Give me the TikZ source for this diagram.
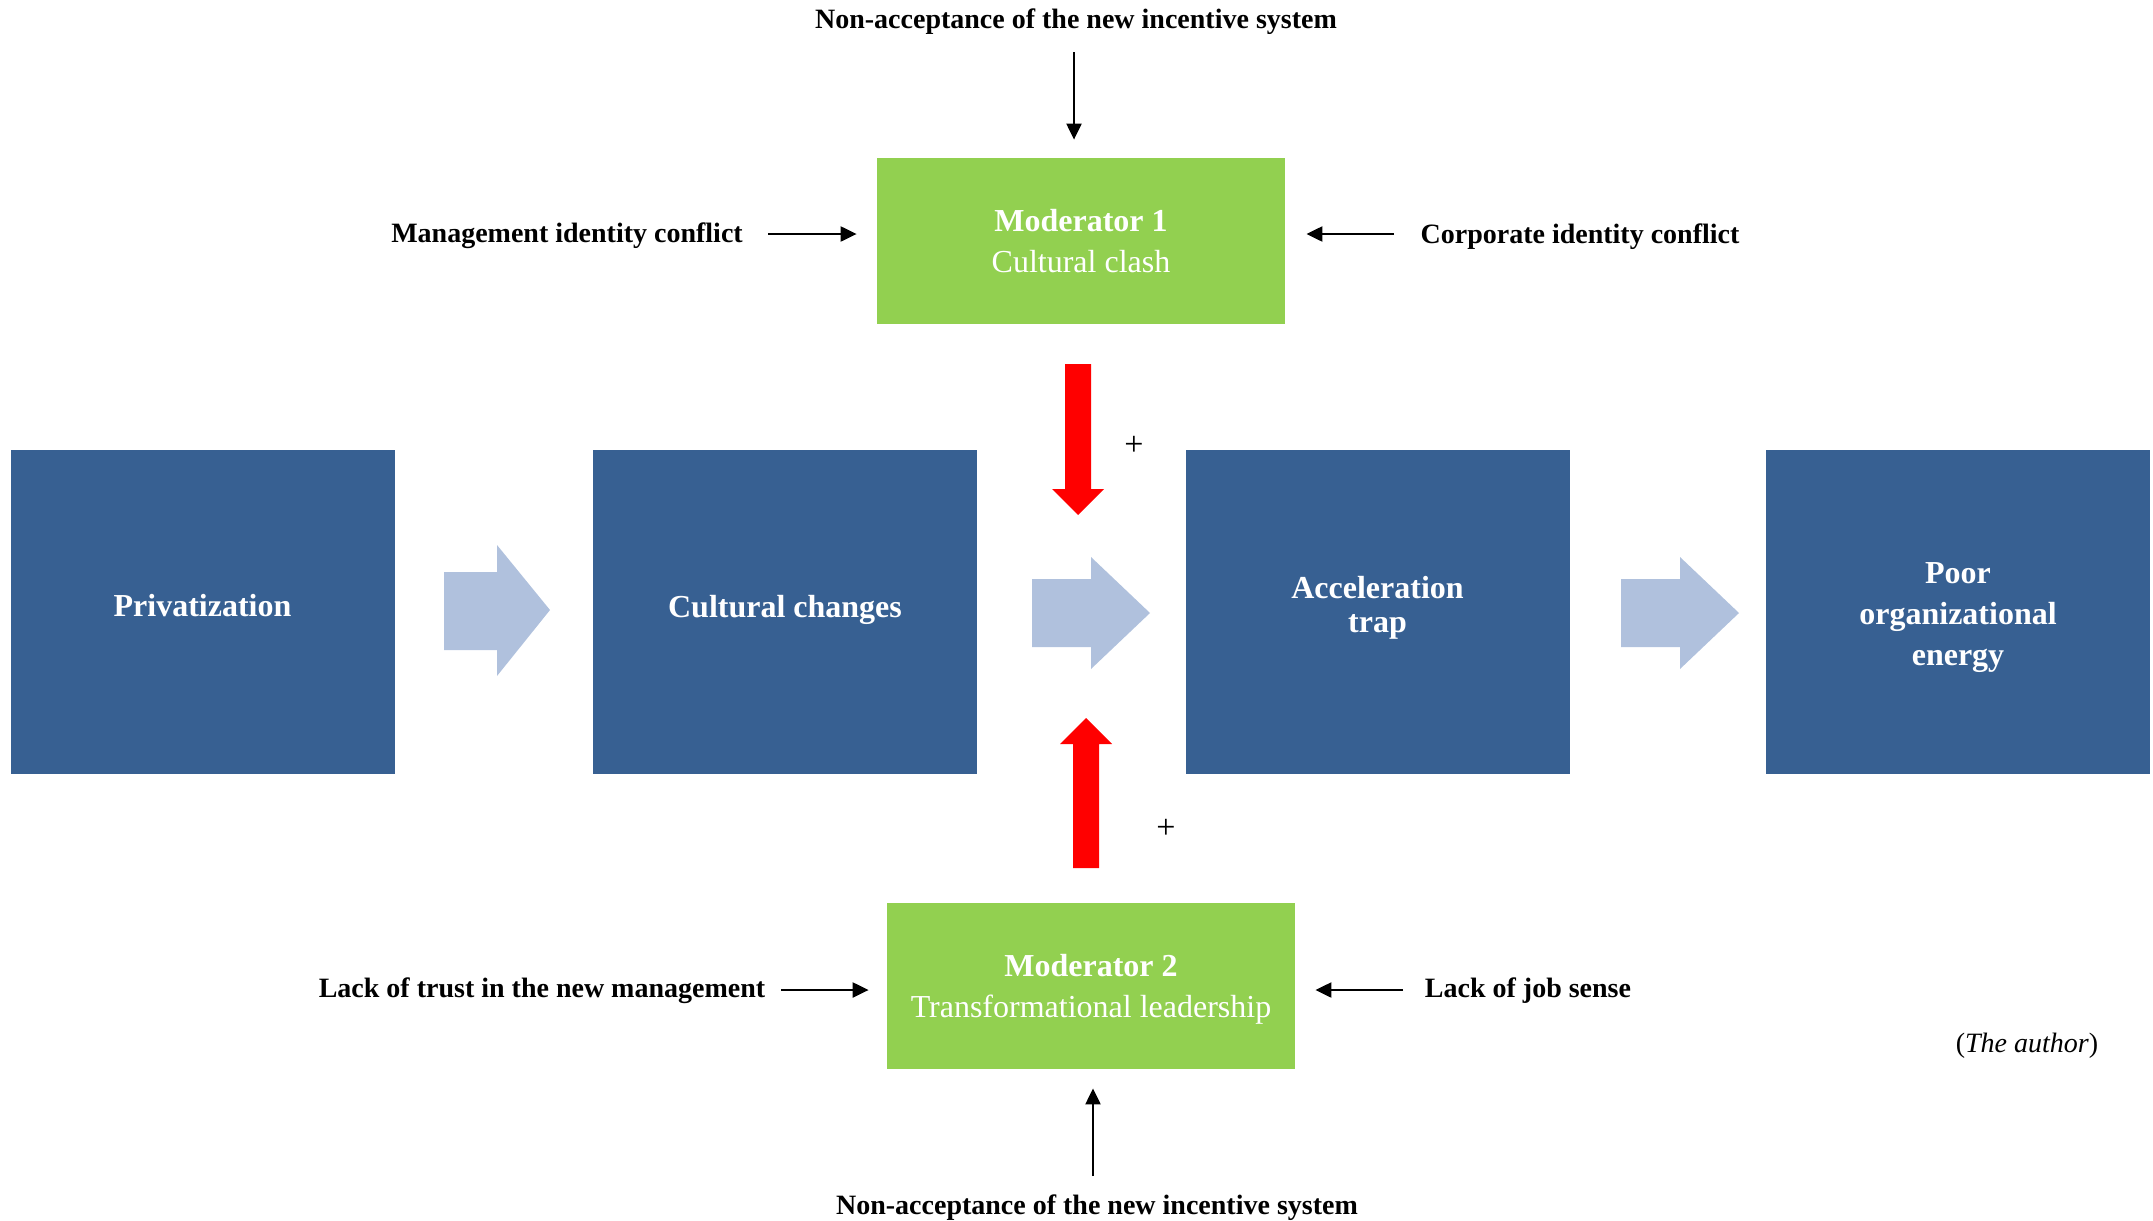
\documentclass[tikz,border=0pt]{standalone}
\usepackage{fontspec}
\setmainfont{Liberation Serif}
\usetikzlibrary{arrows.meta}
\definecolor{boxblue}{RGB}{55,96,146}
\definecolor{modgreen}{RGB}{146,208,80}
\definecolor{lightarrow}{RGB}{176,193,221}
\definecolor{redarrow}{RGB}{255,0,0}
\tikzset{
  bluebox/.style={fill=boxblue, draw=none, text=white, align=center,
    minimum width=192pt, minimum height=162pt, inner sep=0pt,
    font=\fontsize{16}{20.5}\selectfont\bfseries},
  boxtext/.style={text=white, align=center, inner sep=0pt,
    font=\fontsize{16}{20.5}\selectfont\bfseries},
  modbox/.style={fill=modgreen, draw=none, text=white, align=center,
    minimum width=204pt, minimum height=83pt, inner sep=0pt,
    font=\fontsize{16}{20.3}\selectfont},
  lbl/.style={inner sep=0pt, font=\fontsize{14}{16}\selectfont\bfseries},
  plus/.style={inner sep=0pt, font=\fontsize{17}{19}\selectfont},
  conn/.style={draw=black, line width=1.1pt, -{Triangle[length=8pt,width=7.5pt]}},
  blockarrow/.style={fill=lightarrow, draw=none},
  redblock/.style={fill=redarrow, draw=none}
}
\begin{document}
\begin{tikzpicture}[x=0.5pt, y=-0.5pt]
\useasboundingbox (0,0) rectangle (2153,1221);

% main process boxes
\node[bluebox] (b1) at (202.5,612) {};
\node[bluebox] (b2) at (785,612) {};
\node[bluebox] (b3) at (1377.5,612) {};
\node[bluebox] (b4) at (1958,612) {};
\node[boxtext] (t1) at (202.5,606) {Privatization};
\node[boxtext] (t2) at (785,610) {Cultural changes};
\node[boxtext, font=\fontsize{16}{17}\selectfont\bfseries] (t3) at (1377.5,608) {Acceleration\\trap};
\node[boxtext] (t4) at (1958,618) {Poor\\organizational\\energy};

% moderators
\node[modbox] (m1) at (1081,241) {\textbf{Moderator 1}\\Cultural clash};
\node[modbox] (m2) at (1091,986) {};
\node[modbox, fill=none, minimum width=0pt, minimum height=0pt] (m2t) at (1091,989) {\textbf{Moderator 2}\\Transformational leadership};

% block arrows between boxes
\fill[blockarrow] (444,572) -- (497,572) -- (497,545) -- (550,610) -- (497,676) -- (497,650) -- (444,650) -- cycle;
\fill[blockarrow] (1032,579) -- (1091,579) -- (1091,557) -- (1150,613) -- (1091,669) -- (1091,647) -- (1032,647) -- cycle;
\fill[blockarrow] (1621,579) -- (1680,579) -- (1680,557) -- (1739,613) -- (1680,669) -- (1680,647) -- (1621,647) -- cycle;

% red arrows
\fill[redblock] (1065,364) -- (1091,364) -- (1091,489) -- (1104,489) -- (1078,515) -- (1052,489) -- (1065,489) -- cycle;
\fill[redblock] (1073,868) -- (1099,868) -- (1099,744) -- (1112,744) -- (1086,718) -- (1060,744) -- (1073,744) -- cycle;
\node[plus] (p1) at (1134,446) {+};
\node[plus] (p2) at (1166,829) {+};

% labels
\node[lbl] (ltop) at (1076,22) {Non-acceptance of the new incentive system};
\node[lbl] (lmgmt) at (567,236) {Management identity conflict};
\node[lbl] (lcorp) at (1580,237) {Corporate identity conflict};
\node[lbl] (ltrust) at (542,991) {Lack of trust in the new management};
\node[lbl] (ljob) at (1528,991) {Lack of job sense};
\node[lbl] (lbot) at (1097,1208) {Non-acceptance of the new incentive system};
\node[inner sep=0pt, font=\fontsize{14}{16}\selectfont] (auth) at (2027,1046) {(\textit{The author})};

% connectors
\coordinate (ctop) at (1074,52);
\coordinate (cmgmt) at (768,234);
\coordinate (ccorp) at (1394,234);
\coordinate (ctrust) at (781,990);
\coordinate (cjob) at (1403,990);
\coordinate (cbot) at (1093,1176);
\draw[conn, shorten >=9pt] (ctop) -- (ctop |- m1.north);
\draw[conn, shorten >=10pt] (cmgmt) -- (cmgmt -| m1.west);
\draw[conn, shorten >=10.5pt] (ccorp) -- (ccorp -| m1.east);
\draw[conn, shorten >=9pt] (ctrust) -- (ctrust -| m2.west);
\draw[conn, shorten >=10pt] (cjob) -- (cjob -| m2.east);
\draw[conn, shorten >=9.5pt] (cbot) -- (cbot |- m2.south);
\end{tikzpicture}
\end{document}
